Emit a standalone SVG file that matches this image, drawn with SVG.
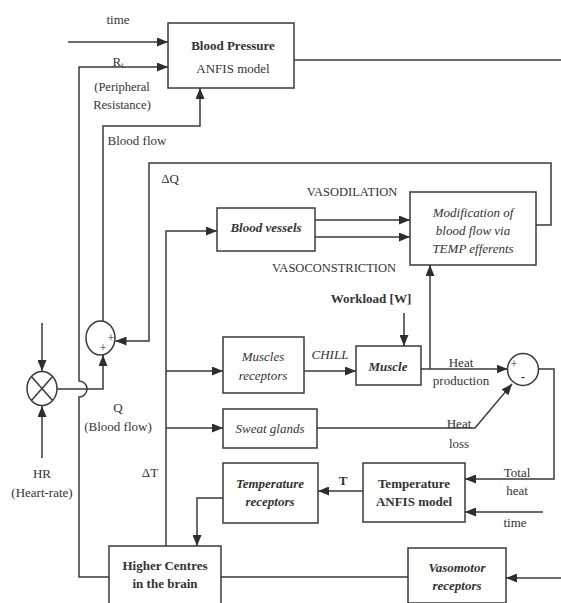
<svg xmlns="http://www.w3.org/2000/svg" width="561" height="603" viewBox="0 0 561 603">
<defs>
<marker id="arr" viewBox="0 0 11 9" refX="11" refY="4.5" markerWidth="11" markerHeight="9" markerUnits="userSpaceOnUse" orient="auto"><path d="M0,0 L11,4.5 L0,9 z" fill="#2e2e2e"/></marker>
<style>
.box{fill:#fff;stroke:#3a3a3a;stroke-width:1.5}
.ln{fill:none;stroke:#3a3a3a;stroke-width:1.5}
.ar{marker-end:url(#arr)}
text{font-family:"Liberation Serif","Times New Roman",serif;font-size:13px;fill:#333;text-anchor:middle}
.b{font-weight:bold}
.i{font-style:italic}
.s{font-size:12.5px}
</style>
</defs>
<rect width="561" height="603" fill="#fff"/>
<g id="connectors">
<path class="ln ar" d="M68,42 H168"/>
<path class="ln ar" d="M109,577 H79 V397 A8,8 0 0 0 79,381 V67 H168"/>
<path class="ln ar" d="M57,389 H103 V355"/>
<path class="ln ar" d="M103,321 V126 H200 V88"/>
<path class="ln" d="M294,60 H561"/>
<path class="ln ar" d="M536,225 H551 V163 H149 V341 H115.5"/>
<path class="ln ar" d="M166,546 V231 H217"/>
<path class="ln ar" d="M166,371 H223"/>
<path class="ln ar" d="M166,428 H223"/>
<path class="ln ar" d="M315,220 H410"/>
<path class="ln ar" d="M315,237 H410"/>
<path class="ln ar" d="M404,313 V346"/>
<path class="ln ar" d="M304,371 H356"/>
<path class="ln ar" d="M421,369 H507.5"/>
<path class="ln ar" d="M430,369 V265"/>
<path class="ln ar" d="M317,428 H475 L512,384"/>
<path class="ln ar" d="M539,369 H554 V479 H465"/>
<path class="ln ar" d="M543,512 H465"/>
<path class="ln ar" d="M363,491 H318"/>
<path class="ln ar" d="M223,498 H197 V546"/>
<path class="ln" d="M221,577 H408"/>
<path class="ln ar" d="M561,578 H506"/>
<path class="ln ar" d="M42,323 V371"/>
<path class="ln ar" d="M42,458 V406"/>
</g>
<g id="labels">
<text x="118" y="23.5">time</text>
<text x="118" y="66">R<tspan font-size="8" dy="2">t</tspan></text>
<text x="122" y="90.5" class="s">(Peripheral</text>
<text x="122" y="108.5" class="s">Resistance)</text>
<text x="137" y="144.5">Blood flow</text>
<text x="170" y="182.5">ΔQ</text>
<text x="352" y="195.5" class="s">VASODILATION</text>
<text x="334" y="271.5" class="s">VASOCONSTRICTION</text>
<text x="371" y="302.5" class="b">Workload [W]</text>
<text x="330" y="358.5" class="i">CHILL</text>
<text x="461" y="366.5">Heat</text>
<text x="461" y="384.5">production</text>
<text x="459" y="428">Heat</text>
<text x="459" y="447.5">loss</text>
<text x="118" y="411.5">Q</text>
<text x="118" y="430.5">(Blood flow)</text>
<text x="150" y="476.5">ΔT</text>
<text x="42" y="477.5">HR</text>
<text x="42" y="496.5">(Heart-rate)</text>
<text x="343" y="484.5" class="b">T</text>
<text x="517" y="476.5">Total</text>
<text x="517" y="494.5">heat</text>
<text x="515" y="526.5">time</text>
</g>
<g id="bp">
<rect class="box" x="168" y="23" width="126" height="65"/>
<text x="233" y="49.5" class="b">Blood Pressure</text>
<text x="233" y="72.5">ANFIS model</text>
</g>
<g id="multiplier">
<ellipse class="box" cx="42" cy="388.5" rx="15" ry="17"/>
<path class="ln" d="M31.4,376.5 L52.6,400.5 M52.6,376.5 L31.4,400.5"/>
</g>
<g id="summer1">
<ellipse class="box" cx="100.5" cy="338" rx="14.5" ry="17"/>
<text x="111" y="342" font-size="10">+</text>
<text x="103" y="352" font-size="10">+</text>
</g>
<g id="blood-vessels">
<rect class="box" x="217" y="208" width="98" height="43"/>
<text x="266" y="231.5" class="b i">Blood vessels</text>
</g>
<g id="modification">
<rect class="box" x="410" y="192" width="126" height="73"/>
<text x="473" y="216.5" class="i">Modification of</text>
<text x="473" y="234.5" class="i">blood flow via</text>
<text x="473" y="253" class="i">TEMP efferents</text>
</g>
<g id="muscles-receptors">
<rect class="box" x="223" y="337" width="81" height="56"/>
<text x="263" y="360.5" class="i">Muscles</text>
<text x="263" y="379.5" class="i">receptors</text>
</g>
<g id="muscle">
<rect class="box" x="356" y="346" width="65" height="39"/>
<text x="388" y="370.5" class="b i">Muscle</text>
</g>
<g id="summer2">
<ellipse class="box" cx="523" cy="369.5" rx="15.5" ry="16"/>
<text x="514" y="368" font-size="10">+</text>
<text x="523" y="381" font-size="12" class="b">-</text>
</g>
<g id="sweat-glands">
<rect class="box" x="223" y="409" width="94" height="39"/>
<text x="270" y="432.5" class="i">Sweat glands</text>
</g>
<g id="temperature-receptors">
<rect class="box" x="223" y="463" width="95" height="60"/>
<text x="270" y="487.5" class="b i">Temperature</text>
<text x="270" y="505.5" class="b i">receptors</text>
</g>
<g id="temperature-anfis">
<rect class="box" x="363" y="463" width="102" height="59"/>
<text x="414" y="487.5" class="b">Temperature</text>
<text x="414" y="505.5" class="b">ANFIS model</text>
</g>
<g id="higher-centres">
<rect class="box" x="109" y="546" width="112" height="62"/>
<text x="165" y="569.5" class="b">Higher Centres</text>
<text x="165" y="587.5" class="b">in the brain</text>
</g>
<g id="vasomotor">
<rect class="box" x="408" y="548" width="98" height="55"/>
<text x="457" y="571.5" class="b i">Vasomotor</text>
<text x="457" y="589.5" class="b i">receptors</text>
</g>
</svg>
